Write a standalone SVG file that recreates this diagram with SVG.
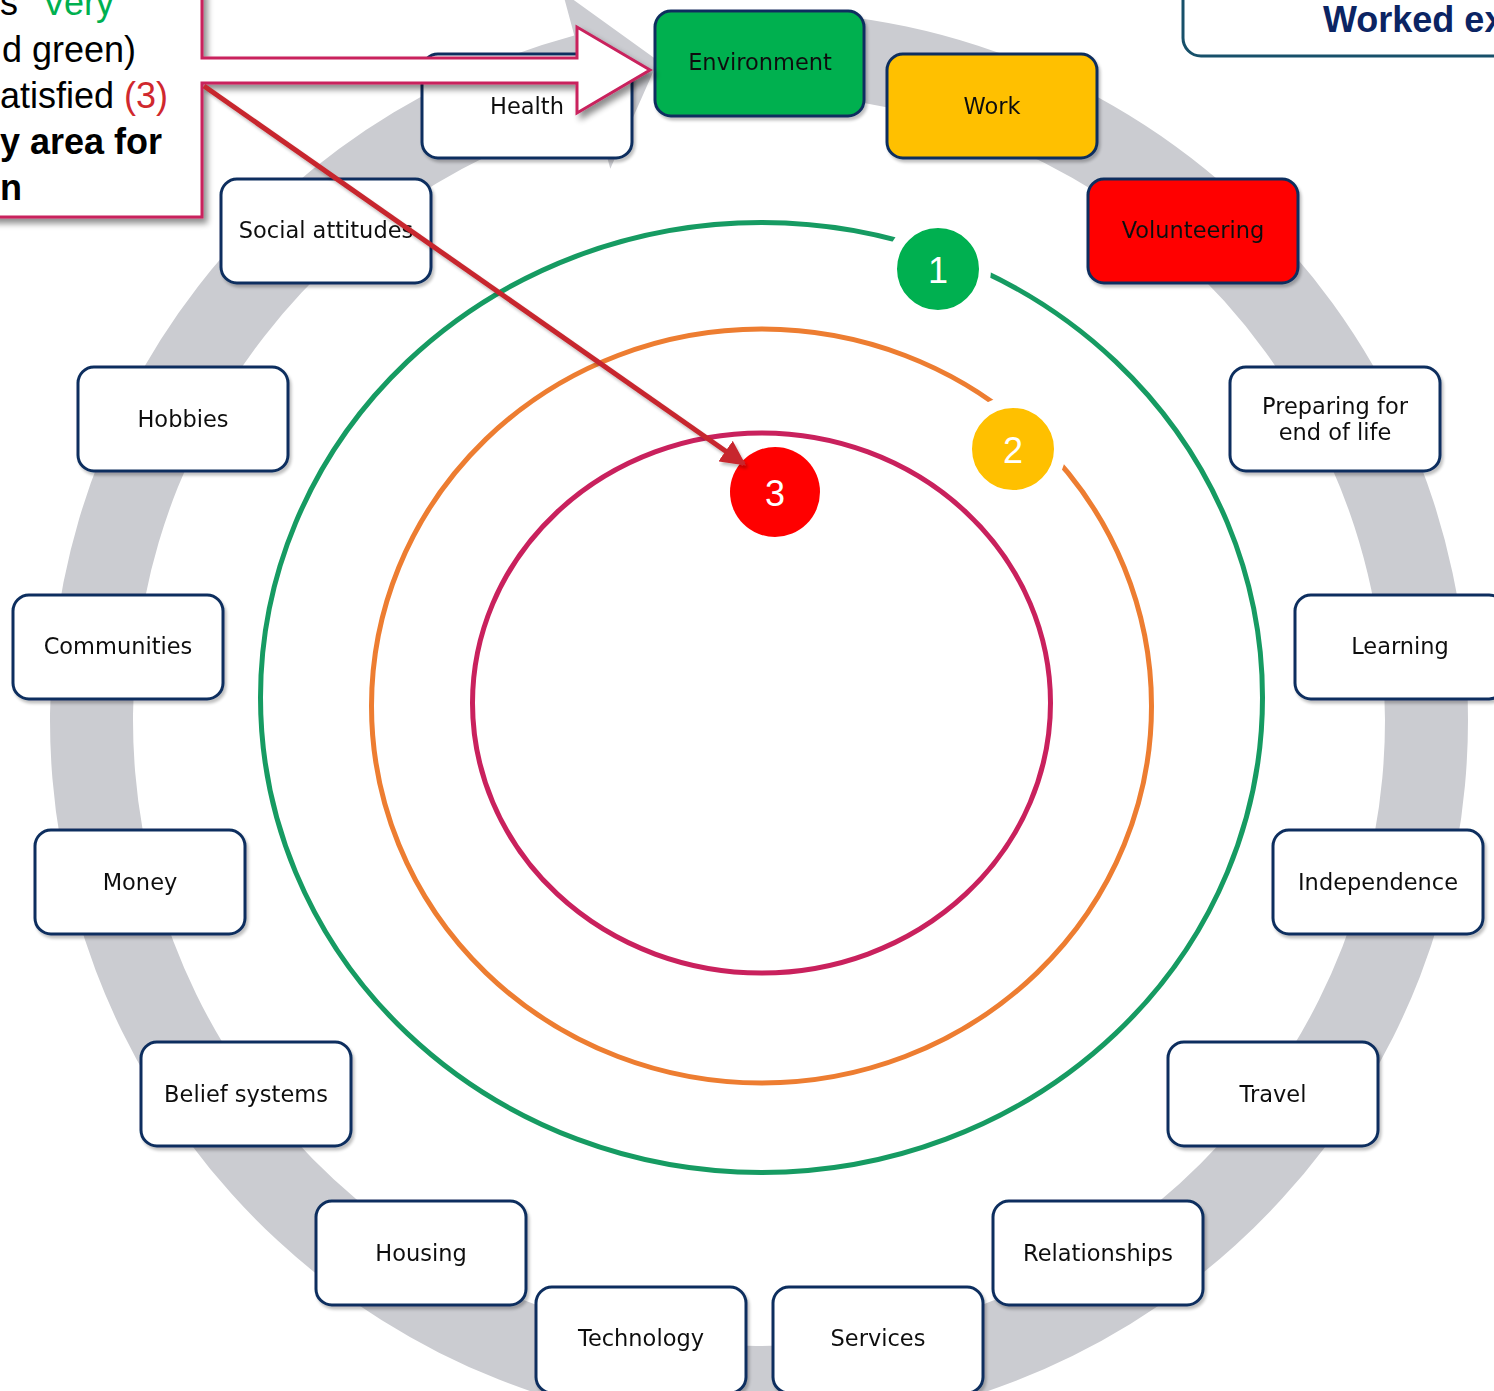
<svg xmlns="http://www.w3.org/2000/svg" width="1494" height="1391" viewBox="0 0 1494 1391">
<defs>
<style>
.box{stroke:#0E2F5E;stroke-width:3;fill:#fff}
.lbl{font-family:"DejaVu Sans","Liberation Sans",sans-serif;font-size:22.5px;fill:#111;text-anchor:middle;dominant-baseline:central}
.badge{stroke:#fff;stroke-width:12}
.num{font-family:"Liberation Sans",Arial,sans-serif;font-size:36px;fill:#fff;text-anchor:middle;dominant-baseline:central}
.ring{fill:none;stroke-width:5}
.call{font-family:"Liberation Sans",Arial,sans-serif;font-size:36px;fill:#000}
</style>
<filter id="sh" x="-20%" y="-20%" width="140%" height="140%">
<feGaussianBlur in="SourceAlpha" stdDeviation="3"/>
<feOffset dx="4" dy="5"/>
<feComponentTransfer><feFuncA type="linear" slope="0.45"/></feComponentTransfer>
<feMerge><feMergeNode/><feMergeNode in="SourceGraphic"/></feMerge>
</filter>
<filter id="sh2" x="-10%" y="-10%" width="120%" height="120%">
<feGaussianBlur in="SourceAlpha" stdDeviation="1.5"/>
<feOffset dx="2" dy="3"/>
<feComponentTransfer><feFuncA type="linear" slope="0.25"/></feComponentTransfer>
<feMerge><feMergeNode/><feMergeNode in="SourceGraphic"/></feMerge>
</filter>
<marker id="ah" viewBox="0 0 10 10" refX="9" refY="5" markerWidth="5" markerHeight="5" orient="auto" markerUnits="strokeWidth">
<path d="M0,0 L10,5 L0,10 z" fill="#C7262D"/>
</marker>
</defs>
<rect width="1494" height="1391" fill="#fff"/>

<!-- gray circular arrow -->
<path id="cycle" fill="#CBCCD1" d="M684.9,14.9 A709,709 0 0 1 1468,720 A709,709 0 1 1 574.3,35.5 L562.6,-8 L658.1,60.7 L610.3,168.7 L595.9,115.6 A626,626 0 1 0 1385,720 A626,626 0 0 0 693.6,97.4 Z"/>

<!-- satisfaction rings -->
<ellipse class="ring" cx="761.5" cy="697.5" rx="501" ry="475" stroke="#169B62"/>
<ellipse class="ring" cx="761.5" cy="706" rx="390" ry="377" stroke="#ED7D31"/>
<ellipse class="ring" cx="761.5" cy="703" rx="289" ry="270" stroke="#C9215D"/>

<g id="badge1"><circle class="badge" cx="938" cy="269" r="47" fill="#00B050"/><text class="num" x="938" y="270">1</text></g>
<g id="badge2"><circle class="badge" cx="1013" cy="449" r="47" fill="#FFC000"/><text class="num" x="1013" y="450">2</text></g>
<g id="badge3"><circle cx="775" cy="492" r="45" fill="#FF0000"/><text class="num" x="775" y="493">3</text></g>

<!-- nodes -->
<g filter="url(#sh2)">
<g id="health"><rect class="box" x="422" y="54" width="210" height="104" rx="16"/><text class="lbl" x="527" y="106">Health</text></g>
<g id="environment"><rect class="box" x="655" y="11" width="209" height="105" rx="16" style="fill:#00B050"/><text class="lbl" x="760" y="62">Environment</text></g>
<g id="work"><rect class="box" x="887" y="54" width="210" height="104" rx="16" style="fill:#FFC000"/><text class="lbl" x="992" y="106">Work</text></g>
<g id="volunteering"><rect class="box" x="1088" y="179" width="210" height="104" rx="16" style="fill:#FF0000"/><text class="lbl" x="1193" y="230">Volunteering</text></g>
<g id="social-attitudes"><rect class="box" x="221" y="179" width="210" height="104" rx="16"/><text class="lbl" x="326" y="230">Social attitudes</text></g>
<g id="hobbies"><rect class="box" x="78" y="367" width="210" height="104" rx="16"/><text class="lbl" x="183" y="419">Hobbies</text></g>
<g id="preparing"><rect class="box" x="1230" y="367" width="210" height="104" rx="16"/><text class="lbl" x="1335" y="406">Preparing for</text><text class="lbl" x="1335" y="432">end of life</text></g>
<g id="communities"><rect class="box" x="13" y="595" width="210" height="104" rx="16"/><text class="lbl" x="118" y="646">Communities</text></g>
<g id="learning"><rect class="box" x="1295" y="595" width="210" height="104" rx="16"/><text class="lbl" x="1400" y="646">Learning</text></g>
<g id="money"><rect class="box" x="35" y="830" width="210" height="104" rx="16"/><text class="lbl" x="140" y="882">Money</text></g>
<g id="independence"><rect class="box" x="1273" y="830" width="210" height="104" rx="16"/><text class="lbl" x="1378" y="882">Independence</text></g>
<g id="belief-systems"><rect class="box" x="141" y="1042" width="210" height="104" rx="16"/><text class="lbl" x="246" y="1094">Belief systems</text></g>
<g id="travel"><rect class="box" x="1168" y="1042" width="210" height="104" rx="16"/><text class="lbl" x="1273" y="1094">Travel</text></g>
<g id="housing"><rect class="box" x="316" y="1201" width="210" height="104" rx="16"/><text class="lbl" x="421" y="1253">Housing</text></g>
<g id="relationships"><rect class="box" x="993" y="1201" width="210" height="104" rx="16"/><text class="lbl" x="1098" y="1253">Relationships</text></g>
<g id="technology"><rect class="box" x="536" y="1287" width="210" height="106" rx="16"/><text class="lbl" x="641" y="1338">Technology</text></g>
<g id="services"><rect class="box" x="773" y="1287" width="210" height="106" rx="16"/><text class="lbl" x="878" y="1338">Services</text></g>
</g>

<!-- callout -->
<g id="callout">
<path filter="url(#sh)" d="M-10,-10 L202,-10 L202,58 L577,58 L577,27 L650,70 L577,113 L577,83 L202,83 L202,217 L-10,217 Z" fill="#fff" stroke="#C9215D" stroke-width="3"/>
<text class="call" y="15"><tspan x="0">s</tspan><tspan x="42" fill="#00B050">Very</tspan></text>
<text class="call" x="2" y="62">d green)</text>
<text class="call" x="0" y="108">atisfied <tspan fill="#D0282E">(3)</tspan></text>
<text class="call" x="0" y="154" font-weight="bold">y area for</text>
<text class="call" x="0" y="200" font-weight="bold">n</text>
</g>

<!-- connectors -->
<g id="connectors">
<line x1="204" y1="86" x2="744" y2="464" stroke="#C7262D" stroke-width="5" marker-end="url(#ah)" filter="url(#sh2)"/>
</g>

<!-- title box -->
<g id="title">
<rect x="1183" y="-20" width="340" height="76" rx="18" fill="#fff" stroke="#17506A" stroke-width="3"/>
<text x="1323" y="32" font-family="Liberation Sans,Arial,sans-serif" font-size="36" font-weight="bold" fill="#0B2463">Worked ex</text>
</g>
</svg>
